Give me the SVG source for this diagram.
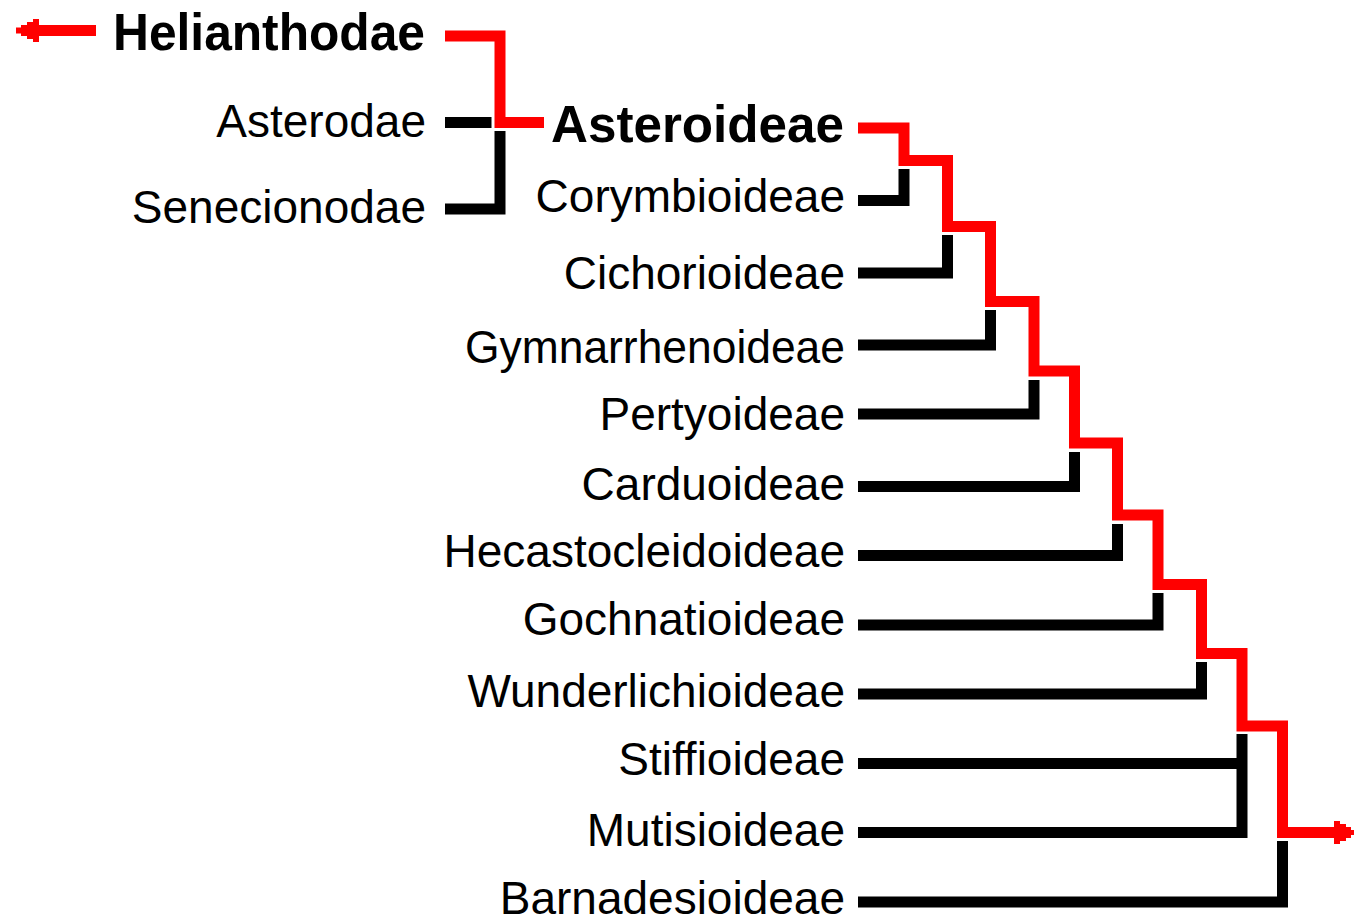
<svg xmlns="http://www.w3.org/2000/svg" width="1354" height="918" viewBox="0 0 1354 918">
<style>
text{font-family:"Liberation Sans",Arial,sans-serif;font-size:46px;fill:#000;text-anchor:end;font-variant-ligatures:none}
.b{font-weight:bold}
.r{fill:none;stroke:#ff0000;stroke-width:11;stroke-linejoin:miter;stroke-linecap:butt}
.k{fill:none;stroke:#000;stroke-width:11;stroke-linejoin:miter;stroke-linecap:butt}
.h{fill:#ff0000}
</style>
<defs>
<path id="headR" d="M0,-11.5 H6 V-8.5 H12 V-5.5 H17 V-2.5 H20 V2.5 H17 V5.5 H12 V8.5 H6 V11.5 H0 Z"/>
</defs>
<rect width="1354" height="918" fill="#fff"/>
<g id="connectors">
<path class="r" d="M445,36 H500 V122.5 H544"/>
<path class="k" d="M445,122.5 H491.5"/>
<path class="k" d="M500,131 V209 H445"/>
<path class="r" d="M858,128 H904 V160.5 H947.5 V226.5 H990.5 V301.5 H1034 V371 H1074.5 V443 H1117.5 V515 H1158 V584.5 H1201.5 V653.5 H1242 V726 H1282.5 V832.5 H1334"/>
<path class="k" d="M858,200.5 H904 V169"/>
<path class="k" d="M858,273 H947.5 V235"/>
<path class="k" d="M858,345 H990.5 V310"/>
<path class="k" d="M858,414 H1034 V380"/>
<path class="k" d="M858,486.5 H1074.5 V452"/>
<path class="k" d="M858,555.5 H1117.5 V524"/>
<path class="k" d="M858,625 H1158 V593"/>
<path class="k" d="M858,694 H1201.5 V662"/>
<path class="k" d="M858,763.5 H1242 M858,832.5 H1242 V734"/>
<path class="k" d="M858,902 H1282.5 V841"/>
<polygon class="h" points="16,27.5 21,27.5 21,25 27,25 27,22 33,22 33,19 39,19 39,25 96,25 96,36 39,36 39,42 33,42 33,39 27,39 27,36 21,36 21,33.5 16,33.5"/>
<use href="#headR" class="h" transform="translate(1334,832.5)"/>
</g>
<g id="n-helianthodae"><text class="b" x="425" y="50" style="font-size:52px" textLength="312" lengthAdjust="spacingAndGlyphs">Helianthodae</text></g>
<g id="n-asterodae"><text x="426" y="137">Asterodae</text></g>
<g id="n-senecionodae"><text x="426" y="223">Senecionodae</text></g>
<g id="n-asteroideae"><text class="b" x="844" y="142" style="font-size:52px" textLength="293" lengthAdjust="spacingAndGlyphs">Asteroideae</text></g>
<g id="n-corymbioideae"><text x="845" y="212">Corymbioideae</text></g>
<g id="n-cichorioideae"><text x="845" y="289">Cichorioideae</text></g>
<g id="n-gymnarrhenoideae"><text x="845" y="363" textLength="380" lengthAdjust="spacingAndGlyphs">Gymnarrhenoideae</text></g>
<g id="n-pertyoideae"><text x="845" y="430">Pertyoideae</text></g>
<g id="n-carduoideae"><text x="845" y="500">Carduoideae</text></g>
<g id="n-hecastocleidoideae"><text x="845" y="567">Hecastocleidoideae</text></g>
<g id="n-gochnatioideae"><text x="845" y="635">Gochnatioideae</text></g>
<g id="n-wunderlichioideae"><text x="845" y="707">Wunderlichioideae</text></g>
<g id="n-stiffioideae"><text x="845" y="775">Stiffioideae</text></g>
<g id="n-mutisioideae"><text x="845" y="846">Mutisioideae</text></g>
<g id="n-barnadesioideae"><text x="845" y="914">Barnadesioideae</text></g>
</svg>
